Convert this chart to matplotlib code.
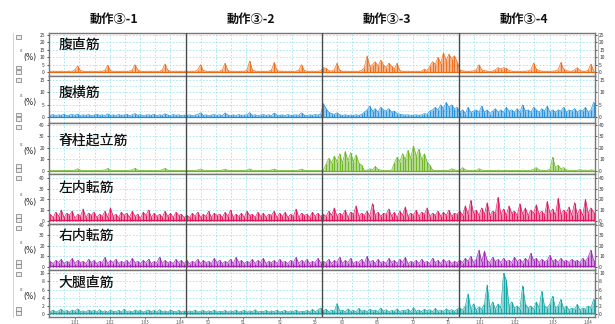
import numpy as np
import matplotlib
matplotlib.use('Agg')
import matplotlib.pyplot as plt
from matplotlib.patches import Rectangle
from matplotlib.lines import Line2D

plt.rcParams['font.family'] = ['Noto Sans CJK JP', 'DejaVu Sans']

# ---------------- data ----------------
segment_titles = ['動作③-1', '動作③-2', '動作③-3', '動作③-4']
muscles = ['腹直筋', '腹横筋', '脊柱起立筋', '左内転筋', '右内転筋', '大腿直筋']
y_ticks = [[0, 5, 10, 15, 20, 25], [0, 5, 10, 15], [0, 10, 20, 30, 40],
           [0, 10, 20, 30, 40], [0, 10, 20, 30, 40], [0, 2, 4, 6, 8, 10]]
y_limits = [(-2.7, 26.4), (-2.3, 16.6), (-2.6, 41.7), (-3.1, 43.7), (-3.2, 41.0), (-0.7, 10.8)]
time_labels = ['1:01', '1:02', '1:03', '1:04', '50', '51', '52', '55', '60', '65', '70', '75',
               '1:01', '1:02', '1:03', '1:04']

rectus_abdominis = [
    0.5, 0.6, 0.5, 0.5, 0.6, 0.5, 0.5, 0.6, 0.5, 1.5, 4, 1, 0.6, 0.5, 0.5, 0.6, 0.5, 0.5, 0.6, 0.5,
    1.2, 4.5, 1, 0.5, 0.6, 0.5, 0.5, 0.6, 0.5, 0.6, 1.2, 5, 1.5, 0.6, 0.5, 0.5, 0.6, 0.5, 0.6, 0.5,
    0.5, 1.5, 5.5, 1.2, 0.6, 0.5, 0.6, 0.5, 0.5, 0.6,
    0.6, 0.5, 0.6, 0.5, 1.5, 5, 1, 0.6, 0.5, 0.5, 0.6, 0.5, 0.6, 1.5, 6, 1.2, 0.5, 0.6, 0.5, 0.5,
    0.6, 0.5, 1.2, 7.5, 1.5, 0.6, 0.5, 0.6, 0.5, 0.5, 0.6, 1.5, 6.5, 1.2, 0.5, 0.6, 0.5, 0.5, 0.6, 0.5,
    0.6, 1.2, 5, 1, 0.6, 0.5, 0.6, 0.5, 0.6, 0.8,
    3, 2.5, 1, 0.6, 1.5, 6, 1.2, 0.5, 0.6, 0.5, 0.5, 0.6, 0.5, 0.6, 1, 3, 11, 4, 5, 7,
    4, 8, 5, 3, 6, 4, 2, 6, 1, 0.6, 0.5, 0.6, 0.5, 0.5, 0.6, 0.5, 0.6, 2, 1, 4,
    7, 5, 10, 6, 13, 8, 12, 9, 11, 7,
    1.5, 0.8, 0.6, 0.5, 0.6, 0.8, 1.5, 5, 1.5, 1, 0.6, 0.5, 0.6, 1.5, 3, 2, 3, 2.5, 1, 0.6,
    0.5, 0.6, 0.5, 0.6, 0.5, 0.8, 1.5, 6, 2, 1, 0.6, 0.5, 0.6, 0.5, 0.6, 0.8, 1.5, 6.5, 2, 1,
    0.6, 0.5, 1.5, 3, 1, 0.6, 0.5, 1.2, 5.5, 1,
]
transversus_abdominis = [
    0.8, 1.1, 0.7, 1.0, 0.8, 1.2, 0.7, 0.9, 1.1, 0.8, 1.3, 0.7, 1.0, 0.8, 1.1, 0.7, 0.9, 1.2, 0.8, 1.0,
    0.7, 1.4, 0.8, 1.0, 0.7, 1.1, 0.8, 0.9, 1.2, 0.7, 1.0, 1.5, 0.8, 1.1, 0.7, 0.9, 1.0, 0.8, 1.2, 0.7,
    1.0, 0.8, 1.4, 0.9, 0.7, 1.1, 0.8, 1.0, 0.7, 0.9,
    0.8, 1.0, 0.7, 0.9, 1.1, 1.8, 0.8, 1.0, 0.7, 0.9, 1.1, 0.8, 1.0, 0.7, 1.8, 0.9, 0.8, 1.0, 0.7, 1.1,
    0.8, 0.9, 1.0, 1.9, 0.8, 1.0, 0.7, 0.9, 1.1, 0.8, 1.0, 0.7, 1.7, 0.9, 0.8, 1.0, 0.7, 1.1, 0.8, 0.9,
    1.0, 0.8, 1.8, 0.9, 0.7, 1.0, 0.8, 1.1, 0.9, 1.2,
    5.5, 3.5, 2, 1.5, 1.2, 1.8, 1, 0.8, 1, 0.8, 0.9, 0.8, 1, 0.8, 1.2, 2, 3, 4.5, 2.5, 3.5,
    2, 4, 3, 2.5, 3.5, 2, 2.5, 1.5, 1.2, 1, 0.9, 1, 0.8, 0.9, 1, 0.8, 1, 1.5, 1.2, 2.5,
    3, 4, 3, 5, 3.5, 6, 4, 5, 3.5, 4,
    2, 3, 1.5, 4, 2, 2.5, 3, 2, 4.5, 2, 3, 1.5, 2.5, 3.5, 2, 3, 2, 4, 2.5, 3,
    2, 3.5, 2, 5, 2.5, 3, 2, 4, 3, 2, 3.5, 2.5, 4.5, 2, 3, 2, 3, 2.5, 4, 2,
    3, 2.5, 3.5, 2, 3, 2.5, 4, 2, 3, 6,
]
erector_spinae = [
    0.5, 0.6, 0.5, 0.6, 0.5, 0.7, 0.5, 0.6, 0.5, 0.8, 2.0, 0.8, 0.5, 0.6, 0.5, 0.6, 0.5, 0.6, 0.5, 0.7,
    0.9, 2.2, 0.8, 0.5, 0.6, 0.5, 0.6, 0.5, 0.6, 0.7, 0.9, 2.5, 0.8, 0.5, 0.6, 0.5, 0.6, 0.5, 0.6, 0.5,
    0.7, 1.0, 2.4, 0.8, 0.5, 0.6, 0.5, 0.6, 0.5, 0.6,
    0.5, 0.6, 0.5, 0.6, 0.9, 1.8, 0.7, 0.5, 0.6, 0.5, 0.6, 0.5, 0.6, 0.8, 1.6, 0.7, 0.5, 0.6, 0.5, 0.6,
    0.5, 0.6, 0.8, 1.9, 0.7, 0.5, 0.6, 0.5, 0.6, 0.5, 0.6, 0.9, 1.7, 0.7, 0.5, 0.6, 0.5, 0.6, 0.5, 0.6,
    0.5, 0.8, 1.6, 0.7, 0.5, 0.6, 0.5, 0.6, 0.5, 0.6,
    0.5, 6, 11, 7, 13, 8, 15, 7, 17, 9, 16, 8, 14, 7, 5, 0.5, 0.8, 2, 1, 4,
    1.5, 0.8, 0.5, 0.6, 0.5, 0.8, 7, 12, 8, 15, 10, 18, 11, 22, 13, 19, 10, 15, 8, 5,
    1, 0.5, 0.6, 0.5, 0.8, 0.5, 0.6, 2, 1, 0.6,
    0.8, 3, 1, 0.6, 0.5, 0.7, 0.6, 2, 0.8, 0.6, 0.5, 0.7, 0.6, 0.5, 0.8, 0.6, 0.5, 0.7, 0.6, 0.5,
    0.7, 0.6, 0.5, 0.8, 0.6, 0.5, 0.7, 1.5, 3, 1, 0.6, 0.5, 0.7, 1.5, 12, 3, 5, 2, 3, 1,
    0.6, 0.8, 0.5, 0.7, 1.2, 0.6, 0.8, 0.5, 1, 0.7,
]
left_adductor = [
    6, 3, 8, 4, 10, 3, 7, 5, 9, 2, 6, 4, 11, 3, 7, 5, 8, 3, 6, 4, 9, 3, 12, 4, 6, 3, 8, 5, 7, 3,
    9, 4, 6, 2, 8, 5, 10, 3, 7, 4, 6, 3, 9, 4, 7, 3, 8, 5, 6, 3,
    5, 3, 7, 4, 8, 3, 6, 4, 9, 3, 7, 5, 6, 3, 8, 4, 10, 3, 6, 4, 7, 3, 9, 5, 6, 3, 8, 4, 7, 3,
    6, 5, 9, 3, 7, 4, 8, 3, 6, 4, 11, 3, 7, 5, 6, 3, 8, 4, 7, 4,
    6, 4, 9, 5, 12, 4, 7, 5, 10, 3, 8, 6, 14, 4, 7, 5, 9, 4, 16, 5, 8, 4, 7, 6, 11, 4, 8, 3, 9, 5,
    13, 4, 7, 5, 10, 4, 8, 6, 12, 4, 7, 5, 9, 4, 8, 5, 10, 4, 7, 6,
    9, 5, 14, 6, 19, 7, 10, 5, 12, 6, 17, 5, 9, 7, 22, 6, 11, 5, 14, 7, 9, 5, 16, 6, 12, 5, 10, 7, 15, 6,
    9, 5, 18, 7, 11, 5, 21, 6, 10, 7, 13, 5, 17, 6, 11, 5, 20, 7, 12, 8,
]
right_adductor = [
    5, 3, 6, 4, 7, 3, 5, 4, 8, 3, 6, 4, 5, 3, 7, 4, 6, 3, 5, 4, 9, 3, 6, 4, 7, 3, 5, 4, 6, 3,
    8, 4, 5, 3, 6, 4, 7, 3, 5, 4, 9, 3, 6, 4, 5, 3, 7, 4, 6, 3,
    6, 3, 5, 4, 7, 3, 6, 4, 5, 3, 8, 4, 6, 3, 5, 4, 7, 3, 9, 4, 6, 3, 5, 4, 7, 3, 6, 4, 8, 3,
    5, 4, 6, 3, 7, 4, 5, 3, 6, 4, 9, 3, 6, 4, 7, 3, 5, 4, 8, 4,
    5, 4, 7, 3, 6, 4, 9, 3, 6, 4, 8, 3, 5, 4, 7, 3, 10, 4, 6, 3, 7, 4, 5, 3, 8, 4, 6, 3, 7, 4,
    9, 3, 5, 4, 6, 3, 7, 4, 5, 3, 8, 4, 6, 3, 7, 4, 6, 3, 5, 4,
    6, 4, 8, 5, 10, 4, 7, 16, 5, 15, 6, 4, 9, 5, 7, 4, 8, 5, 6, 4, 9, 5, 7, 4, 8, 5, 13, 6, 8, 4,
    7, 5, 6, 11, 5, 7, 4, 8, 5, 6, 4, 7, 5, 6, 4, 8, 5, 9, 16, 6,
]
rectus_femoris = [
    0.6, 1, 0.5, 0.8, 1.2, 0.6, 0.9, 0.5, 1, 0.7, 1.3, 0.6, 0.8, 0.5, 1, 0.7, 0.9, 0.5, 1.1, 0.6,
    0.8, 0.5, 1, 0.7, 0.6, 0.9, 0.5, 1.2, 0.6, 0.8, 0.5, 1, 0.7, 0.9, 0.5, 0.8, 1, 0.6, 0.9, 0.5,
    1.1, 0.6, 0.8, 0.5, 1, 0.7, 0.6, 0.9, 0.5, 0.8,
    0.5, 0.8, 0.6, 1, 0.5, 0.7, 0.9, 0.5, 0.8, 0.6, 1, 0.5, 0.7, 0.6, 0.9, 0.5, 0.8, 0.6, 1, 0.5,
    0.7, 0.9, 0.5, 0.8, 0.6, 1.1, 0.5, 0.7, 0.6, 0.9, 0.5, 0.8, 0.6, 1, 0.5, 0.7, 0.9, 0.5, 0.8, 0.6,
    1, 0.5, 0.7, 0.6, 0.9, 0.5, 1.2, 0.6, 1, 1.5,
    0.8, 1.2, 0.6, 1, 0.7, 2.6, 0.8, 1, 0.6, 1.3, 0.7, 0.9, 0.6, 1.4, 0.7, 1, 0.6, 1.2, 0.8, 1,
    0.6, 1.5, 0.7, 1.1, 0.6, 0.9, 0.7, 1.3, 0.6, 1, 0.8, 1.2, 0.6, 1.6, 0.7, 1, 0.6, 1.2, 0.8, 1.1,
    0.6, 1.4, 0.7, 1, 0.6, 1.3, 0.8, 1.1, 0.7, 1.2,
    1.5, 1, 2, 5, 1.2, 2.5, 1, 1.8, 1.2, 2.5, 7.2, 1.5, 3, 1.2, 2.5, 1.5, 10, 8.4, 2, 3,
    1.5, 2, 1.2, 7, 2.5, 1.5, 2, 1.2, 3, 1.5, 5.6, 2, 1.5, 2.5, 4.4, 1.5, 2, 3.6, 1.2, 2,
    1, 1.5, 1.2, 2.4, 1, 1.5, 1.2, 2, 1.5, 3.6,
]
series = [rectus_abdominis, transversus_abdominis, erector_spinae,
          left_adductor, right_adductor, rectus_femoris]
colors = ['#EE6A12', '#1E8EDC', '#69B41C', '#E0125C', '#A020B4', '#12A3A3']

# ---------------- layout (pixels) ----------------
W, H = 615, 324
fig = plt.figure(figsize=(W / 100, H / 100), dpi=100)
x_left, x_right = 49, 595
row_edges = [33, 76, 123, 174, 224, 270, 317]
label_centers = [44.5, 92.5, 140.5, 188, 236, 283]
tick_px = [75, 110, 145, 180, 208, 243, 280, 315, 342, 377, 413, 448, 480, 515, 553, 588]

def fx(px):
    return px / W

def fy(py):
    return 1 - py / H

grid_c = '#9FE3EE'
seg_w = (x_right - x_left) / 4
for r in range(6):
    top, bot = row_edges[r], row_edges[r + 1]
    ax = fig.add_axes([fx(x_left), fy(bot), (x_right - x_left) / W, (bot - top) / H])
    y = np.array(series[r], dtype=float)
    n = len(y)
    x = (np.arange(n) + 0.5) / n * 4
    ax.set_xlim(0, 4)
    ax.set_ylim(*y_limits[r])
    # grids
    for t in y_ticks[r]:
        ax.axhline(t, color=grid_c, lw=0.6, ls=(0, (2, 2)), zorder=0)
    if r == 1:
        for t in [2.5, 7.5, 12.5]:
            ax.axhline(t, color=grid_c, lw=0.5, ls=(0, (2, 2)), zorder=0)
    for s in range(4):
        for k in range(1, 9):
            ax.axvline(s + k / 9, color=grid_c, lw=0.6, ls=(0, (2, 2)), zorder=0)
    ax.fill_between(x, 0, y, color=colors[r], alpha=0.45, lw=0, zorder=1)
    ax.vlines(x, 0, y, color=colors[r], lw=0.8, alpha=0.9, zorder=2)
    ax.plot(x, y, color=colors[r], lw=0.45, zorder=3)
    ax.axhline(0.3, color=colors[r], lw=0.9, zorder=3)
    for s in (1, 2, 3):
        ax.axvline(s, color='#4a4a4a', lw=1.0, zorder=4)
    ax.set_yticks(y_ticks[r])
    ax.set_yticklabels([str(t) for t in y_ticks[r]])
    ax.tick_params(axis='y', left=True, right=True, labelleft=True, labelright=True,
                   labelsize=3.6, length=1.5, width=0.6, pad=1.5, colors='#333333')
    if r < 5:
        ax.set_xticks([])
    else:
        ax.set_xticks([(p - x_left) / seg_w for p in tick_px])
        ax.set_xticklabels(time_labels)
        ax.tick_params(axis='x', labelsize=3.2, length=1.5, width=0.6, pad=0.3, colors='#555555')
    for sp in ax.spines.values():
        sp.set_color('#777777')
        sp.set_linewidth(1.0)
    ax.text(0.018, 1 - (label_centers[r] - top) / (bot - top), muscles[r],
            transform=ax.transAxes, fontsize=10, va='center', ha='left', color='#111111',
            fontweight='medium', zorder=6)
    # left strip decorations
    fig.text(fx(30), fy((top + bot) / 2 + 3), '(%)', fontsize=5.5, ha='center', va='center',
             family=['DejaVu Sans'], color='#222222')
    fig.text(fx(21), fy((top + bot) / 2 - 4), 'ε', fontsize=3.5, ha='center', va='center',
             family=['DejaVu Sans'], color='#555555')
    for by in (top + 2, bot - 10, bot - 6):
        fig.add_artist(Rectangle((fx(15.5), fy(by + 3.5)), 5 / W, 3.5 / H,
                                 transform=fig.transFigure, facecolor='#eeeeee',
                                 edgecolor='#777777', lw=0.5))

# segment titles
for s in range(4):
    fig.text(fx(x_left + seg_w * (s + 0.5) - 3), fy(19), segment_titles[s], fontsize=8.8,
             fontweight='bold', ha='center', va='center', color='#111111')

# strip borders
fig.add_artist(Line2D([fx(598), fx(598)], [fy(33), fy(317)], transform=fig.transFigure,
                      color='#bbbbbb', lw=0.8))
fig.add_artist(Line2D([fx(13), fx(13)], [fy(33), fy(317)], transform=fig.transFigure,
                      color='#cccccc', lw=0.6))

fig.savefig('out.png', dpi=100, facecolor='white')
